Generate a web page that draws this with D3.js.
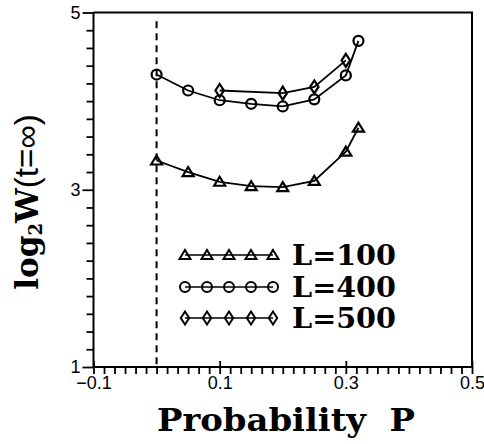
<!DOCTYPE html>
<html>
<head>
<meta charset="utf-8">
<script src="https://cdn.jsdelivr.net/npm/d3@7"></script>
<style>
  html, body { margin: 0; padding: 0; background: #fff; }
  svg { display: block; }
</style>
</head>
<body>
<svg id="chart" width="484" height="444"></svg>
<script>
// Probability values and log2 W(t = infinity) for each system size
const pL100 = [0, 0.05, 0.1, 0.15, 0.2, 0.25, 0.3, 0.32];
const wL100 = [3.33, 3.20, 3.09, 3.04, 3.03, 3.10, 3.43, 3.70];

const pL400 = [0, 0.05, 0.1, 0.15, 0.2, 0.25, 0.3, 0.32];
const wL400 = [4.30, 4.12, 4.01, 3.97, 3.94, 4.02, 4.29, 4.68];

const pL500 = [0.1, 0.2, 0.25, 0.3];
const wL500 = [4.12, 4.09, 4.16, 4.46];

const seriesNames = ["L=100", "L=400", "L=500"];
const seriesMarkers = ["triangle", "circle", "diamond"];

const xTickValues = [-0.1, 0.1, 0.3, 0.5];
const yTickValues = [1, 3, 5];
// minor tick positions
const xMinorTicks = d3.range(0, 37).map(i => -0.1 + i * (0.6 / 36));
const yMinorTicks = d3.range(0, 21).map(i => 1 + i * 0.2);

const svg = d3.select("#chart");

const x = d3.scaleLinear().domain([-0.1, 0.5]).range([93.5, 472]);
const y = d3.scaleLinear().domain([1, 5]).range([367, 12.5]);

const serifBold = "'DejaVu Serif', 'Liberation Serif', serif";
const sans = "'Liberation Sans', Arial, sans-serif";

// frame: top and right edges
svg.append("path")
  .attr("d", `M${x(-0.1)},${y(5)}H${x(0.5)}V${y(1)}`)
  .attr("fill", "none").attr("stroke", "#000").attr("stroke-width", 2);

// axes: every tick drawn by one axis, labels only on the major values
const isMajorX = v => xTickValues.some(t => Math.abs(t - v) < 1e-6);
const isMajorY = v => yTickValues.some(t => Math.abs(t - v) < 1e-6);

svg.append("g").attr("class", "x-axis").attr("transform", `translate(0,${y(1)})`)
  .call(d3.axisBottom(x).tickValues(xMinorTicks).tickSize(7).tickPadding(2)
    .tickFormat(d => isMajorX(d) ? d3.format(".1f")(d).replace("-", "\u2212") : ""))
  .call(g => g.select(".domain").attr("stroke-width", 2).attr("d", `M${x(-0.1)},0H${x(0.5)}`))
  .call(g => g.selectAll(".tick line")
    .attr("stroke", "#000").attr("stroke-width", 1.8)
    .attr("y1", d => isMajorX(d) ? -6 : 0))
  .call(g => g.selectAll("text").attr("font-family", sans).attr("font-size", 18).attr("fill", "#000"));

svg.append("g").attr("class", "y-axis").attr("transform", `translate(${x(-0.1)},0)`)
  .call(d3.axisLeft(y).tickValues(yMinorTicks).tickSize(7).tickPadding(6)
    .tickFormat(d => isMajorY(d) ? d3.format("d")(d) : ""))
  .call(g => g.select(".domain").attr("stroke-width", 2).attr("d", `M0,${y(1)}V${y(5)}`))
  .call(g => g.selectAll(".tick line")
    .attr("stroke", "#000").attr("stroke-width", 1.8)
    .attr("x2", d => isMajorY(d) ? -11 : -7))
  .call(g => g.selectAll("text").attr("font-family", sans).attr("font-size", 18).attr("fill", "#000"));

// dashed reference line at P = 0
svg.append("line")
  .attr("x1", x(0)).attr("x2", x(0))
  .attr("y1", y(4.9)).attr("y2", y(1))
  .attr("stroke", "#000").attr("stroke-width", 2)
  .attr("stroke-dasharray", "7,5");

// marker shapes
function markerPath(kind) {
  if (kind === "triangle") return "M0,-5L5.5,4L-5.5,4Z";
  if (kind === "circle") return d3.arc()({innerRadius: 0, outerRadius: 5, startAngle: 0, endAngle: 2 * Math.PI});
  return "M0,-6.5L4.2,0L0,6.5L-4.2,0Z";
}

const line = d3.line().x(d => x(d[0])).y(d => y(d[1]));

const seriesData = [
  d3.zip(pL100, wL100),
  d3.zip(pL400, wL400),
  d3.zip(pL500, wL500)
];

seriesData.forEach((pts, i) => {
  const g = svg.append("g");
  g.append("path").attr("d", line(pts))
    .attr("fill", "none").attr("stroke", "#000").attr("stroke-width", 1.8);
  g.selectAll("path.m").data(pts).join("path")
    .attr("class", "m")
    .attr("transform", d => `translate(${x(d[0])},${y(d[1])})`)
    .attr("d", markerPath(seriesMarkers[i]))
    .attr("fill", "none").attr("stroke", "#000").attr("stroke-width", 2.2);
});

// legend
const legendY = [255, 287, 318];
const legendX0 = 185, legendX1 = 273;
seriesNames.forEach((name, i) => {
  const g = svg.append("g");
  g.append("line").attr("x1", legendX0).attr("x2", legendX1)
    .attr("y1", legendY[i]).attr("y2", legendY[i])
    .attr("stroke", "#000").attr("stroke-width", 1.6);
  d3.range(5).forEach(k => {
    g.append("path")
      .attr("transform", `translate(${legendX0 + k * (legendX1 - legendX0) / 4},${legendY[i]})`)
      .attr("d", markerPath(seriesMarkers[i]))
      .attr("fill", "none").attr("stroke", "#000").attr("stroke-width", 2);
  });
  g.append("text").attr("x", 292).attr("y", legendY[i] + 10)
    .attr("font-family", serifBold).attr("font-weight", "bold").attr("font-size", 28)
    .attr("textLength", 104).attr("lengthAdjust", "spacingAndGlyphs")
    .attr("fill", "#000").text(name);
});

// axis titles
svg.append("text")
  .attr("x", 286).attr("y", 431)
  .attr("text-anchor", "middle")
  .attr("font-family", serifBold).attr("font-weight", "bold").attr("font-size", 31)
  .attr("fill", "#000").attr("xml:space", "preserve")
  .attr("textLength", 258).attr("lengthAdjust", "spacingAndGlyphs")
  .text("Probability  P");

const yTitle = svg.append("text")
  .attr("transform", "translate(38,202) rotate(-90)")
  .attr("text-anchor", "middle")
  .attr("fill", "#000");
yTitle.append("tspan").attr("font-family", serifBold).attr("font-weight", "bold").attr("font-size", 31).text("log");
yTitle.append("tspan").attr("font-family", serifBold).attr("font-weight", "bold").attr("font-size", 18).attr("dy", 4).text("2");
yTitle.append("tspan").attr("font-family", serifBold).attr("font-weight", "bold").attr("font-size", 31).attr("dy", -4).text("W");
yTitle.append("tspan").attr("font-family", sans).attr("font-size", 33).text("(t=\u221E)");
</script>
</body>
</html>
